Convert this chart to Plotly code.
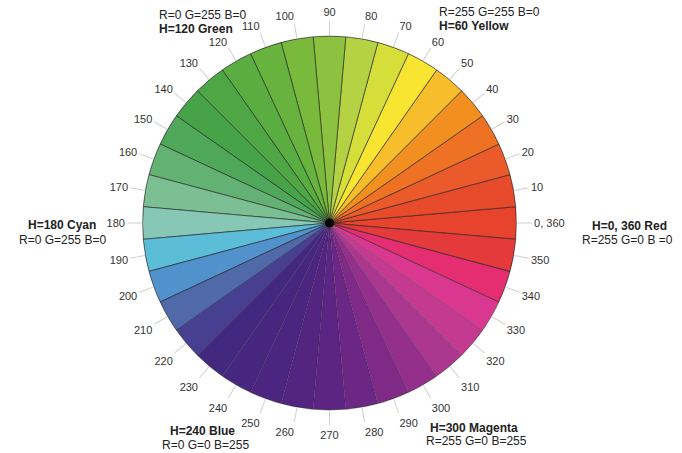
import plotly.graph_objects as go

hues = list(range(0, 360, 10))
tick_text = ["0, 360"] + [str(h) for h in hues[1:]]
radius_vals = [1] * len(hues)
wedge_colors = [
    "#e8432d", "#e84a2c", "#ea5a2a", "#ef7224", "#f2901f", "#f8bd2a",
    "#f8e531", "#d6df3a", "#b4d243", "#8cc23f", "#79ba3d", "#67b33e",
    "#5aad40", "#4ea744", "#46a348", "#4fa85a", "#63b273", "#7bbf92",
    "#86c8b5", "#5bbdd8", "#5292cc", "#4f69a9", "#473f8f", "#43287f",
    "#46267f", "#4b2580", "#532581", "#5d2583", "#6c2785", "#7f2a87",
    "#942f8b", "#ab378f", "#c43a91", "#da3790", "#e52e72", "#e53a3c",
]

notes = [
    ("R=255 G=255 B=0", 437, 12, False),
    ("H=60 Yellow", 437, 26, True),
    ("R=0 G=255 B=0", 157, 15, False),
    ("H=120 Green", 157, 29, True),
    ("H=180 Cyan", 26, 225, True),
    ("R=0 G=255 B=0", 17, 240, False),
    ("H=240 Blue", 168, 431, True),
    ("R=0 G=0 B=255", 160, 445, False),
    ("H=300 Magenta", 428, 428, True),
    ("R=255 G=0 B=255", 424, 441, False),
    ("H=0, 360 Red", 590, 226, True),
    ("R=255 G=0 B =0", 580, 240, False),
]

# wedge borders are strong in the upper half, faint in the purple half
border_colors = [
    "rgba(30,30,30,0.25)" if 220 <= h <= 330 else "rgba(30,30,30,0.75)"
    for h in hues
]

W, H = 682, 453
fig = go.Figure()
fig.add_trace(go.Barpolar(
    r=radius_vals, theta=hues, width=[10] * len(hues),
    marker=dict(color=wedge_colors, line=dict(color=border_colors, width=0.8)),
    hoverinfo="theta",
))
fig.add_trace(go.Scatterpolar(
    r=[0], theta=[0], mode="markers",
    marker=dict(color="black", size=9), hoverinfo="skip",
))

cx, cy, R = 329.5, 223, 187
fig.update_layout(
    width=W, height=H,
    margin=dict(l=0, r=0, t=0, b=0),
    paper_bgcolor="white",
    showlegend=False,
    font=dict(family="Liberation Sans, Arial, sans-serif", color="#333333"),
    polar=dict(
        domain=dict(x=[(cx - R) / W, (cx + R) / W], y=[(H - cy - R) / H, (H - cy + R) / H]),
        bgcolor="white",
        radialaxis=dict(visible=False, range=[0, 1]),
        angularaxis=dict(
            direction="counterclockwise", rotation=0,
            tickmode="array", tickvals=hues, ticktext=tick_text,
            ticks="outside", ticklen=15, tickwidth=1, tickcolor="#d0d0d0",
            showline=True, linecolor="rgba(40,40,40,0.6)", linewidth=0.8,
            showgrid=False,
            tickfont=dict(size=11, color="#333333"),
        ),
    ),
)

for text, px, py, bold in notes:
    fig.add_annotation(
        x=px / W, y=1 - py / H, xref="paper", yref="paper",
        text=f"<b>{text}</b>" if bold else text,
        showarrow=False, xanchor="left", yanchor="middle",
        font=dict(size=12, color="#222222"),
    )

fig.write_html(
    "out.html",
    config={"displayModeBar": False},
    post_script="document.body.style.margin='0';document.body.style.overflow='hidden';",
)
